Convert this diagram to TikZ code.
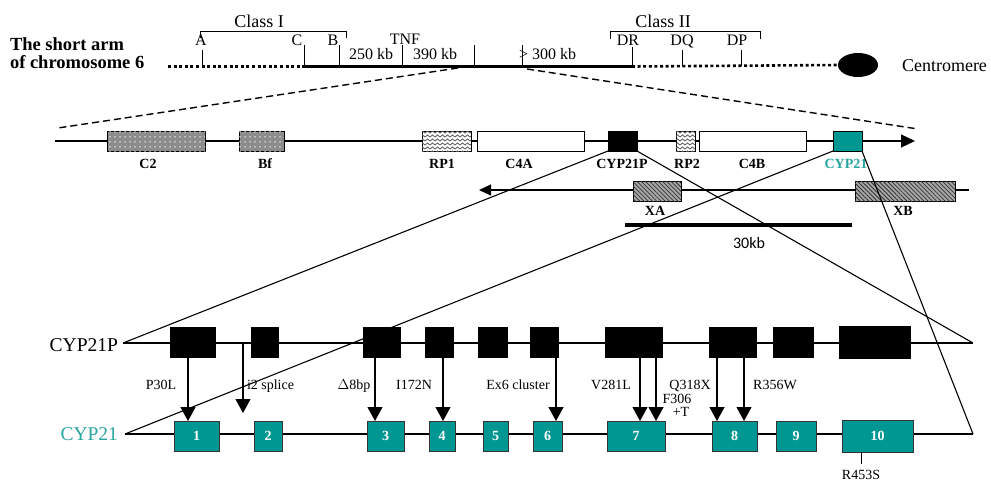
\documentclass[tikz,border=0pt]{standalone}
\usepackage{fontspec}
\setmainfont{Liberation Serif}
\newfontfamily\kbfont{Carlito}
\usetikzlibrary{arrows.meta,patterns.meta,shapes.geometric,calc}

\definecolor{exonteal}{RGB}{0,150,146}
\definecolor{labelteal}{RGB}{40,165,160}
\newcommand\fsz[1]{\fontsize{#1}{#1}\selectfont}

% chevron waves used for the RP genes
\pgfdeclarepattern{
  name=zigwave,
  type=uncolored,
  bottom left={\pgfpoint{-0.5pt}{-0.5pt}},
  top right={\pgfpoint{5.5pt}{4.5pt}},
  tile size={\pgfpoint{5pt}{4pt}},
  code={
    \pgfsetlinewidth{0.8pt}
    \pgfpathmoveto{\pgfpoint{0pt}{1pt}}
    \pgfpathlineto{\pgfpoint{2.5pt}{3pt}}
    \pgfpathlineto{\pgfpoint{5pt}{1pt}}
    \pgfusepath{stroke}
  }
}

\begin{document}
\begin{tikzpicture}[x=1pt,y=-1pt,
  every node/.style={inner sep=0pt,outer sep=0pt},
  thin line/.style={line width=1.1pt},
  dotline/.style={line width=2.6pt,dash pattern=on 3pt off 2.6pt},
  proj/.style={line width=1.4pt,dash pattern=on 7pt off 4pt},
  tick/.style={line width=1pt},
  toplab/.style={font=\fsz{16}},
  classlab/.style={font=\fsz{18}},
  genebox/.style={draw=black,line width=0.9pt,anchor=north west,minimum height=20pt},
  dotted gene/.style={genebox,fill=black!45,postaction={pattern={Dots[distance=5pt,radius=0.75pt]},pattern color=white}},
  wave gene/.style={genebox,fill=white,postaction={pattern=zigwave,pattern color=black!65}},
  hatch gene/.style={genebox,fill=black!35,postaction={pattern={Lines[angle=-45,distance=3pt,line width=0.8pt]},pattern color=black!80}},
  genelab/.style={font=\fsz{14}\bfseries,anchor=base},
  pex/.style={fill=black,draw=black,anchor=north west},
  gex/.style={fill=exonteal,draw=black!80,line width=0.7pt,anchor=north west,text=white,font=\fsz{14}\bfseries},
  mut/.style={line width=1.2pt,-{Triangle[length=14pt,width=15pt]}},
  mutlab/.style={font=\fsz{14},anchor=base},
  rowlab/.style={font=\fsz{19.5},anchor=base east}]

\useasboundingbox (0,0) rectangle (991,482);

% ---------- short arm of chromosome 6 ----------
\node[anchor=base west,font=\fsz{18.5}\bfseries] (arm1) at (10,50) {The short arm};
\node[anchor=base west,font=\fsz{18.5}\bfseries] (arm2) at (10,68) {of chromosome 6};

\node[ellipse,fill=black,minimum width=40pt,minimum height=24pt] (cen) at (858,65) {};
\node[anchor=base west,font=\fsz{18}] (centxt) at (902,71) {Centromere};

\coordinate (chL) at (168,66.5);
\coordinate (chC) at (304,66.5);
\coordinate (chDR) at (632,66.5);
\draw[dotline] (chL) -- (chC);
\draw[line width=3pt] (chC) -- (chDR);
\draw[dotline] (chDR) -- (cen.west);

% class brackets
\draw[tick] (200,38) -- (200,31) -- (346,31) -- (346,38);
\node[classlab,anchor=base] (cl1) at (259,27) {Class I};
\draw[tick] (610,39) -- (610,31) -- (760,31) -- (760,39);
\node[classlab,anchor=base] (cl2) at (663,27) {Class II};

% loci ticks and labels
\foreach \x/\t in {202/50,304/45,339/45,402/45,474/45,522/45,632/47,682/50,741/50}
  \draw[tick] (\x,\t) -- (\x,66);
\node[toplab,anchor=base] (lA) at (201,45) {A};
\node[toplab,anchor=base] (lC) at (297,45) {C};
\node[toplab,anchor=base] (lB) at (333,45) {B};
\node[toplab,anchor=base] (lTNF) at (405,44) {TNF};
\node[toplab,anchor=base] (l250) at (371,59) {250 kb};
\node[toplab,anchor=base] (l390) at (435,59) {390 kb};
\node[toplab,anchor=base west] (l300) at (519,59) {> 300 kb};
\node[toplab,anchor=base] (lDR) at (628,45) {DR};
\node[toplab,anchor=base] (lDQ) at (682,45) {DQ};
\node[toplab,anchor=base] (lDP) at (737,45) {DP};

% zoom-in lines
\coordinate (zL1) at (458,68);
\coordinate (zL2) at (58,128);
\coordinate (zR1) at (527,69);
\coordinate (zR2) at (918,129);
\draw[proj] (zL1) -- (zL2);
\draw[proj] (zR1) -- (zR2);

% ---------- class III region ----------
\coordinate (t1L) at (55,141);
\coordinate (t1R) at (915,141);
\draw[thin line,-{Triangle[length=14pt,width=13pt]}] (t1L) -- (t1R);

\node[dotted gene,minimum width=98pt] (c2) at (107,131) {};
\node[dotted gene,minimum width=45pt] (bf) at (239,131) {};
\node[wave gene,minimum width=49pt] (rp1) at (422,131) {};
\node[genebox,fill=white,minimum width=107pt] (c4a) at (477,131) {};
\node[genebox,fill=black,minimum width=29pt] (cyp21p) at (608,131) {};
\node[wave gene,minimum width=19pt] (rp2) at (676,131) {};
\node[genebox,fill=white,minimum width=107pt] (c4b) at (699,131) {};
\node[genebox,fill=exonteal,minimum width=29pt] (cyp21) at (833,131) {};

\node[genelab] at (148,168) {C2};
\node[genelab] at (265,168) {Bf};
\node[genelab] at (442,168) {RP1};
\node[genelab] at (519,168) {C4A};
\node[genelab] at (622,168) {CYP21P};
\node[genelab] at (687,168) {RP2};
\node[genelab] at (752,168) {C4B};
\node[genelab,text=labelteal] at (846,168) {CYP21};

% opposite strand
\coordinate (t2L) at (479,190);
\coordinate (t2R) at (969,190);
\draw[thin line,{Triangle[length=12pt,width=11pt]}-] (t2L) -- (t2R);
\node[hatch gene,minimum width=48pt] (xa) at (633,181) {};
\node[hatch gene,minimum width=100pt] (xb) at (855,181) {};
\node[genelab] at (655,215) {XA};
\node[genelab] at (903,215) {XB};

% scale bar
\coordinate (sb1) at (625,225);
\coordinate (sb2) at (852,225);
\draw[line width=4pt] (sb1) -- (sb2);
\node[anchor=base,font=\kbfont\fsz{16}] (kb) at (749,248) {30kb};

% ---------- exon structure ----------
\coordinate (pL) at (123,343);
\coordinate (pR) at (973,343);
\coordinate (gL) at (125,434);
\coordinate (gR) at (973,434);
\draw[thin line] (pL) -- (pR);
\draw[thin line] (gL) -- (gR);
\node[rowlab] (rowP) at (118,351) {CYP21P};
\node[rowlab,text=labelteal] (rowG) at (118,440) {CYP21};

% lines relating the genes to their exon maps
\draw[thin line] (cyp21p.south west) -- (pL);
\draw[thin line] (cyp21p.south east) -- (pR);
\draw[thin line] (cyp21.south west) -- (gL);
\draw[thin line] (cyp21.south east) -- (gR);

\foreach \i/\a/\b/\t/\h in {1/170/215/327/30,2/251/278/327/30,3/363/400/327/30,4/425/453/327/30,
    5/478/507/327/30,6/530/558/327/30,7/605/662/327/30,8/709/756/327/30,9/773/813/327/30,10/839/910/326/32}
  \node[pex,minimum width={\b-\a},minimum height=\h] (p\i) at (\a,\t) {};
\foreach \i/\a/\b/\t/\h in {1/174/219/421/30,2/254/282/421/30,3/367/404/421/30,4/429/455/421/30,
    5/483/508/421/30,6/533/562/421/30,7/607/665/421/30,8/712/757/421/30,9/776/816/421/30,10/842/913/420/32}
  \node[gex,minimum width={\b-\a},minimum height=\h] (g\i) at (\a,\t) {\i};

% mutations carried over from the pseudogene
\draw[mut] ([xshift=-4.5pt]p1.south) -- ([xshift=-4.5pt]p1.south |- g1.north);
\coordinate (i2a) at (243,343);
\coordinate (i2b) at (243,413);
\draw[mut] (i2a) -- (i2b);
\draw[mut] ([xshift=-6.5pt]p3.south) -- ([xshift=-6.5pt]p3.south |- g3.north);
\draw[mut] ([xshift=4pt]p4.south) -- ([xshift=4pt]p4.south |- g4.north);
\draw[mut] ([xshift=12pt]p6.south) -- ([xshift=12pt]p6.south |- g6.north);
\draw[mut] ([xshift=6.5pt]p7.south) -- ([xshift=6.5pt]p7.south |- g7.north);
\draw[mut] ([xshift=22.5pt]p7.south) -- ([xshift=22.5pt]p7.south |- g7.north);
\draw[mut] ([xshift=-15.5pt]p8.south) -- ([xshift=-15.5pt]p8.south |- g8.north);
\draw[mut] ([xshift=11.5pt]p8.south) -- ([xshift=11.5pt]p8.south |- g8.north);

\node[mutlab] at (161,389) {P30L};
\node[mutlab,anchor=base west] at (247,389) {i2 splice};
\node[mutlab] at (354,389) {$\Delta$8bp};
\node[mutlab] at (414,389) {I172N};
\node[mutlab] at (518,389) {Ex6 cluster};
\node[mutlab] at (611,389) {V281L};
\node[mutlab] at (690,389) {Q318X};
\node[mutlab] at (775,389) {R356W};
\node[mutlab] at (677,403) {F306};
\node[mutlab] at (681,416) {+T};

\draw[tick] ([xshift=-16.5pt]g10.south) -- ++(0,12) coordinate (r453);
\node[mutlab] at (861,479) {R453S};

\end{tikzpicture}
\end{document}
